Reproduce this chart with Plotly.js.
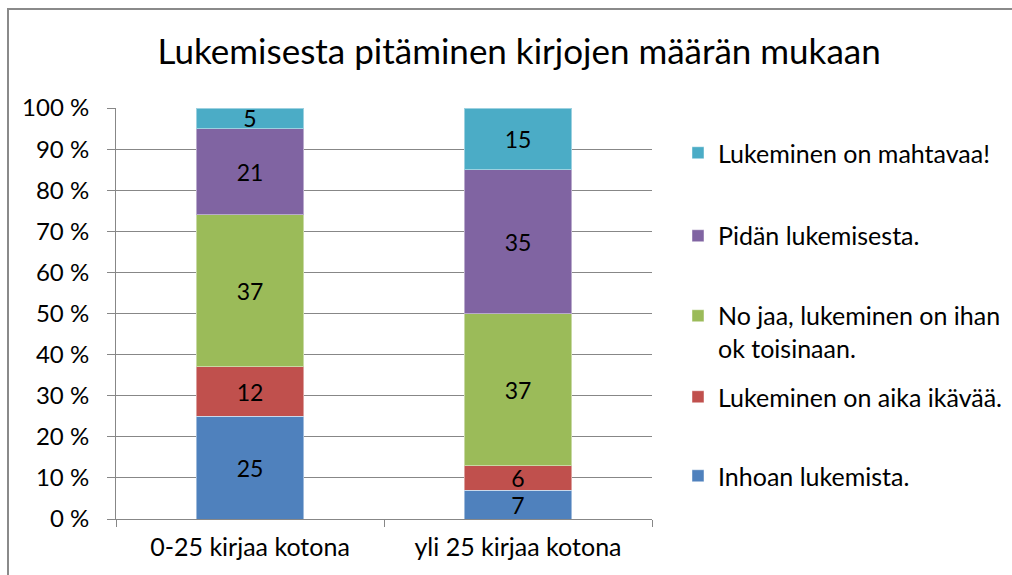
<!DOCTYPE html>
<html><head><meta charset="utf-8">
<script src="https://cdn.plot.ly/plotly-3.0.1.min.js"></script>
<style>
html,body{margin:0;padding:0;background:#fff;overflow:hidden;}
#wrap{position:relative;width:1012px;height:575px;}
#chart{width:1012px;height:575px;}
#frame{position:absolute;left:7px;top:8px;width:1200px;height:800px;border:2px solid #8a8a8a;box-sizing:border-box;pointer-events:none;}
</style></head>
<body><div id="wrap"><div id="chart"></div><div id="frame"></div></div>
<script>
const categories = ["0-25 kirjaa kotona", "yli 25 kirjaa kotona"];
const seriesNames = ["Inhoan lukemista.", "Lukeminen on aika ikävää.", "No jaa, lukeminen on ihan<br>ok toisinaan.", "Pidän lukemisesta.", "Lukeminen on mahtavaa!"];
const inhoan = [25, 7];
const ikavaa = [12, 6];
const nojaa = [37, 37];
const pidan = [21, 35];
const mahtavaa = [5, 15];
const seriesValues = [inhoan, ikavaa, nojaa, pidan, mahtavaa];
const colors = ["#4F81BD", "#C0504D", "#9BBB59", "#8064A2", "#4BACC6"];
const yTicks = [0, 10, 20, 30, 40, 50, 60, 70, 80, 90, 100];
const yTickLabels = yTicks.map(v => v + " %");

const FONT = "Lato, 'Open Sans', sans-serif";
const legendIds = ["legend5", "legend4", "legend3", "legend2", "legend"];
const legendY = [0.1046, 0.2968, 0.455, 0.6886, 0.8905];

const traces = seriesValues.map((vals, i) => ({
  type: "bar",
  name: seriesNames[i],
  x: categories,
  y: vals,
  text: vals.map(String),
  textposition: "inside",
  insidetextanchor: "middle",
  textangle: 0,
  constraintext: "none",
  textfont: {family: FONT, size: 23, color: "#000"},
  marker: {color: colors[i], line: {width: 1, color: "rgba(255,255,255,0.45)"}},
  legend: legendIds[i],
  hoverinfo: "name+y"
}));

const layout = {
  width: 1012, height: 575,
  paper_bgcolor: "#fff", plot_bgcolor: "#fff",
  margin: {l: 116, r: 360, t: 108, b: 56, autoexpand: false},
  barmode: "stack",
  barnorm: "percent",
  bargap: 0.6,
  font: {family: FONT, size: 24, color: "#000"},
  title: {text: "Lukemisesta pitäminen kirjojen määrän mukaan", font: {family: FONT, size: 35, color: "#000"},
          x: 0.513, xanchor: "center", y: 1 - 52/575, yanchor: "middle", yref: "container"},
  xaxis: {showline: true, linecolor: "#878787", linewidth: 1, ticks: "outside", tickson: "boundaries",
          ticklen: 7, tickcolor: "#878787", showgrid: false, tickfont: {family: FONT, size: 25},
          ticklabelstandoff: 6},
  yaxis: {range: [0, 100], tickvals: yTicks, ticktext: yTickLabels, showline: true, linecolor: "#878787",
          ticks: "outside", ticklen: 8, tickcolor: "#878787", showgrid: true, gridcolor: "#878787",
          gridwidth: 1, zeroline: false, tickfont: {family: FONT, size: 24}, ticklabelstandoff: 13},
  showlegend: true
};
legendIds.forEach((id, i) => {
  layout[id] = {x: 1.0485, xanchor: "left", y: legendY[i], yanchor: "middle",
                font: {family: FONT, size: 25, color: "#000"}, bgcolor: "rgba(0,0,0,0)",
                valign: "top", itemwidth: 30};
});
Plotly.newPlot("chart", traces, layout, {displayModeBar: false, staticPlot: true});
</script></body></html>
